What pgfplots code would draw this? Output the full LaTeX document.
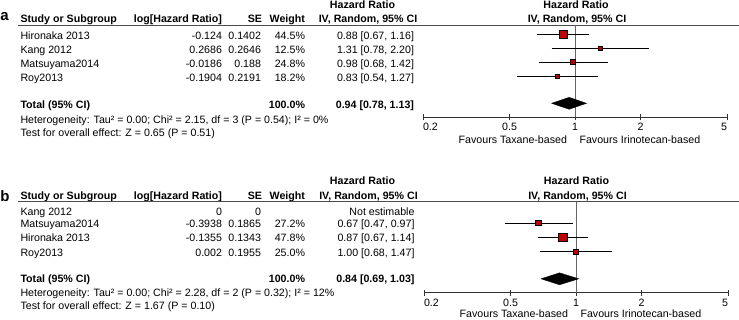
\documentclass[border=0pt]{standalone}
\usepackage{fontspec}
\setmainfont{Liberation Sans}
\usepackage{pgfplots}
\pgfplotsset{compat=1.18}
\definecolor{rmred}{RGB}{192,0,0}
\newcommand{\fs}{\fontsize{10.65}{12}\selectfont}
\pgfplotsset{
  fpaxis/.style={
    scale only axis, width=304pt, xmin=0.2, xmax=5,
    axis x line*=bottom, axis y line=none, clip=false,
    xtick={0.2,0.5,1,2,5}, xticklabels={}, ytick=\empty,
    tick align=center, major tick length=6pt, minor tick num=0,
    x axis line style={-, black!80, line width=0.8pt},
    every tick/.style={black!80, line width=0.8pt},
  },
  ci/.style={black, line width=0.7pt},
  sq/.style={only marks, mark=square*, mark options={draw=none, fill=rmred}},
  dia/.style={fill=black, draw=black, line width=0.3pt},
  vline/.style={black!60, line width=0.8pt},
}
\begin{document}
\begin{tikzpicture}[every node/.style={inner sep=0pt, outer sep=0pt, font=\fs}]
\tikzset{bf/.style={font=\fs\bfseries}}
\begin{scope}[x=1pt,y=-1pt]
\useasboundingbox (0,0) rectangle (739,319);
% ================= panel a =================
\node[anchor=base west, font=\fontsize{15}{15}\selectfont\bfseries] at (0.5,20.7) {a};
\node[anchor=base, bf] at (362.5,8.5) {Hazard Ratio};
\node[anchor=base, bf] at (576,8.5) {Hazard Ratio};
\node[anchor=base west, bf] at (20.5,22) {Study or Subgroup};
\node[anchor=base east, bf] at (222,22) {log[Hazard Ratio]};
\node[anchor=base east, bf] at (262,22) {SE};
\node[anchor=base east, bf] at (305,22) {Weight};
\node[anchor=base, bf] at (368,22) {IV, Random, 95\% CI};
\node[anchor=base, bf] at (577,22) {IV, Random, 95\% CI};
\draw[black!70, line width=0.8pt] (18,25) -- (739,25);
\foreach \y/\n/\l/\s/\w/\c in {39/Hironaka 2013/-0.124/0.1402/44.5\%/{0.88 [0.67, 1.16]},
  53/Kang 2012/0.2686/0.2646/12.5\%/{1.31 [0.78, 2.20]},
  67.5/Matsuyama2014/-0.0186/0.188/24.8\%/{0.98 [0.68, 1.42]},
  81.8/Roy2013/-0.1904/0.2191/18.2\%/{0.83 [0.54, 1.27]}}{
  \node[anchor=base west] at (20.5,\y) {\n};
  \node[anchor=base east] at (222,\y) {\l};
  \node[anchor=base east] at (261,\y) {\s};
  \node[anchor=base east] at (305,\y) {\w};
  \node[anchor=base east] at (414,\y) {\c};
}
\node[anchor=base west, bf] at (20.5,108.3) {Total (95\% CI)};
\node[anchor=base east, bf] at (305,108.3) {100.0\%};
\node[anchor=base east, bf] at (414,108.3) {0.94 [0.78, 1.13]};
\node[anchor=base west] at (20.5,123) {Heterogeneity: Tau² = 0.00; Chi² = 2.15, df = 3 (P = 0.54); I² = 0\%};
\node[anchor=base west] at (20.5,136) {Test for overall effect: Z = 0.65 (P = 0.51)};
\node[anchor=base east] at (567,143.3) {Favours Taxane-based};
\node[anchor=base west] at (579.5,143.3) {Favours Irinotecan-based};
% ================= panel b =================
\node[anchor=base west, font=\fontsize{15}{15}\selectfont\bfseries] at (0.5,201.7) {b};
\node[anchor=base, bf] at (362.5,184) {Hazard Ratio};
\node[anchor=base, bf] at (576.5,184) {Hazard Ratio};
\node[anchor=base west, bf] at (20.5,199) {Study or Subgroup};
\node[anchor=base east, bf] at (222,199) {log[Hazard Ratio]};
\node[anchor=base east, bf] at (262,199) {SE};
\node[anchor=base east, bf] at (305,199) {Weight};
\node[anchor=base, bf] at (368.5,199) {IV, Random, 95\% CI};
\node[anchor=base, bf] at (577.5,199) {IV, Random, 95\% CI};
\draw[black!70, line width=0.8pt] (18,201.7) -- (739,201.7);
\foreach \y/\n/\l/\s/\w/\c in {215/Kang 2012/0/0/{}/{Not estimable},
  227.7/Matsuyama2014/-0.3938/0.1865/27.2\%/{0.67 [0.47, 0.97]},
  241.7/Hironaka 2013/-0.1355/0.1343/47.8\%/{0.87 [0.67, 1.14]},
  256/Roy2013/0.002/0.1955/25.0\%/{1.00 [0.68, 1.47]}}{
  \node[anchor=base west] at (20.5,\y) {\n};
  \node[anchor=base east] at (222,\y) {\l};
  \node[anchor=base east] at (261,\y) {\s};
  \node[anchor=base east] at (305,\y) {\w};
  \node[anchor=base east] at (414.5,\y) {\c};
}
\node[anchor=base west, bf] at (20.5,282.7) {Total (95\% CI)};
\node[anchor=base east, bf] at (305,282.7) {100.0\%};
\node[anchor=base east, bf] at (414.5,282.7) {0.84 [0.69, 1.03]};
\node[anchor=base west] at (20.5,296.5) {Heterogeneity: Tau² = 0.00; Chi² = 2.28, df = 2 (P = 0.32); I² = 12\%};
\node[anchor=base west] at (20.5,309) {Test for overall effect: Z = 1.67 (P = 0.10)};
\node[anchor=base east] at (568,317.8) {Favours Taxane-based};
\node[anchor=base west] at (580.5,317.8) {Favours Irinotecan-based};
\end{scope}

\begin{semilogxaxis}[fpaxis, at={(423pt,-117.3pt)}, anchor=south west, height=92.3pt,
  ymin=-117.3, ymax=-25]
\addplot[vline] coordinates {(1,-25) (1,-117.3)};
\addplot[ci] coordinates {(0.67,-34) (1.16,-34)};
\addplot[ci] coordinates {(0.78,-48) (2.20,-48)};
\addplot[ci] coordinates {(0.68,-62) (1.42,-62)};
\addplot[ci] coordinates {(0.54,-76) (1.27,-76)};
\addplot[sq, mark size=4pt] coordinates {(0.88,-34)};
\addplot[sq, mark size=1.85pt] coordinates {(1.31,-48)};
\addplot[sq, mark size=2.5pt] coordinates {(0.98,-62)};
\addplot[sq, mark size=2pt] coordinates {(0.83,-76)};
\addplot[dia] coordinates {(0.78,-103.3) (0.94,-97.3) (1.13,-103.3) (0.94,-109.3) (0.78,-103.3)};
\node[anchor=base west] at (axis cs:0.2,-130.7) {0.2};
\node[anchor=base] at (axis cs:0.5,-130.7) {0.5};
\node[anchor=base] at (axis cs:1,-130.7) {1};
\node[anchor=base] at (axis cs:2,-130.7) {2};
\node[anchor=base east] at (axis cs:5,-130.7) {5};
\end{semilogxaxis}

\begin{semilogxaxis}[fpaxis, at={(424pt,-292.7pt)}, anchor=south west, height=91pt,
  ymin=-292.7, ymax=-201.7]
\addplot[vline] coordinates {(1,-201.7) (1,-292.7)};
\addplot[ci] coordinates {(0.47,-223) (0.97,-223)};
\addplot[ci] coordinates {(0.67,-237.3) (1.14,-237.3)};
\addplot[ci] coordinates {(0.68,-251.3) (1.47,-251.3)};
\addplot[sq, mark size=2.65pt] coordinates {(0.67,-223)};
\addplot[sq, mark size=4.3pt] coordinates {(0.87,-237.3)};
\addplot[sq, mark size=2.5pt] coordinates {(1.00,-251.3)};
\addplot[dia] coordinates {(0.69,-278.8) (0.84,-272.8) (1.03,-278.8) (0.84,-284.8) (0.69,-278.8)};
\node[anchor=base west] at (axis cs:0.2,-306.7) {0.2};
\node[anchor=base] at (axis cs:0.5,-306.7) {0.5};
\node[anchor=base] at (axis cs:1,-306.7) {1};
\node[anchor=base] at (axis cs:2,-306.7) {2};
\node[anchor=base east] at (axis cs:5,-306.7) {5};
\end{semilogxaxis}
\end{tikzpicture}
\end{document}
